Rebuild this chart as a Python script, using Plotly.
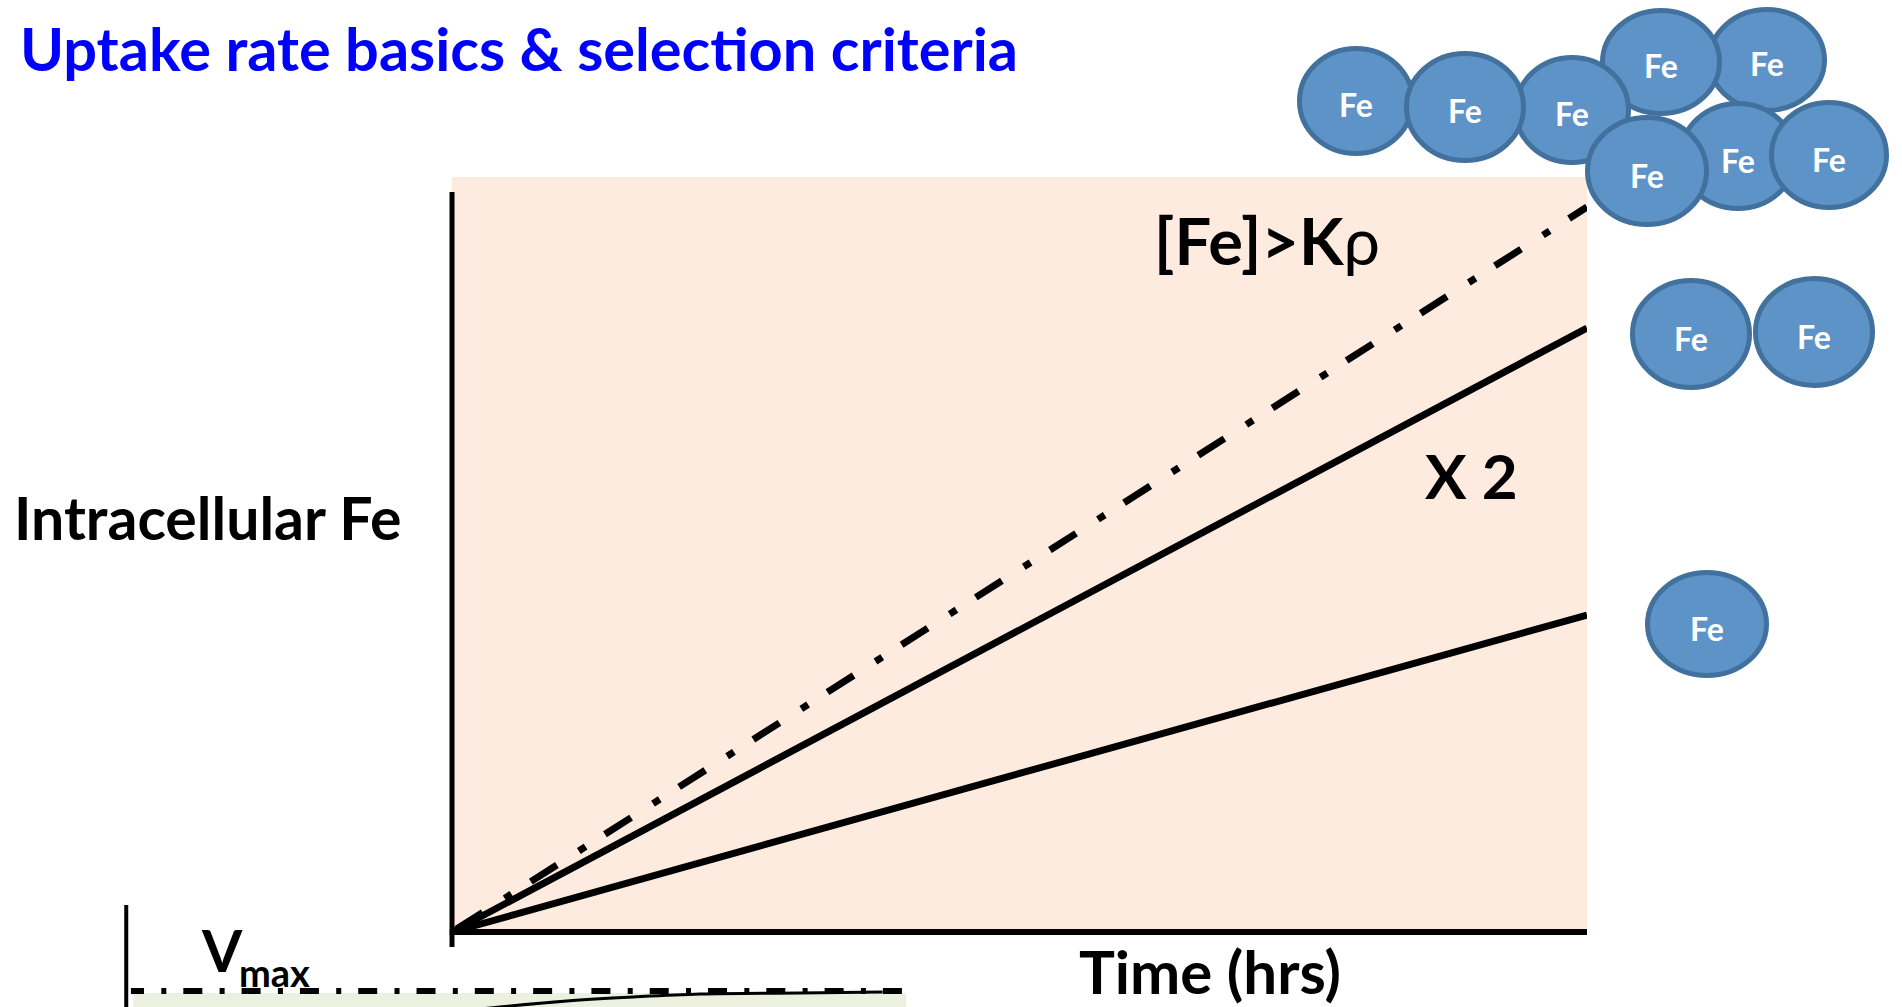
import plotly.graph_objects as go

# ---- Uptake curves (intracellular Fe vs time) ----
time_hrs = [0, 10]
fe_single = [0, 3.17]          # one Fe unit
fe_double = [0, 6.04]          # two Fe units (x 2)
kp_time = [-0.13, 10]
fe_above_kp = [-0.094, 7.25]   # [Fe] > K_rho

# ---- Saturation panel (V vs substrate) ----
vmax_s = [0.06, 9.98]
vmax_v = [1.0, 1.0]
curve_s = [4.2, 4.79, 5.65, 6.50, 7.36, 8.64, 9.70]
curve_v = [0.895, 0.92, 0.95, 0.97, 0.985, 0.99, 0.995]

# ---- Labels ----
title_text = "Uptake rate basics & selection criteria"
y_label = "Intracellular Fe"
x_label = "Time (hrs)"
kp_label = "<b>[Fe]>K</b>ρ"
x2_label = "X 2"
fe_text = "Fe"

W, H = 1902, 1007
FONT = "Lato, 'Open Sans', sans-serif"


def px(x):
    return x / W


def py(y):
    return 1 - y / H


fig = go.Figure()

# main uptake lines
fig.add_trace(go.Scatter(x=time_hrs, y=fe_single, mode="lines",
                         line=dict(color="black", width=7), xaxis="x", yaxis="y"))
fig.add_trace(go.Scatter(x=time_hrs, y=fe_double, mode="lines",
                         line=dict(color="black", width=7), xaxis="x", yaxis="y"))
fig.add_trace(go.Scatter(x=kp_time, y=fe_above_kp, mode="lines",
                         line=dict(color="black", width=7,
                                   dash="0px,23px,31px,26px,8px,0px"),
                         xaxis="x", yaxis="y"))

# saturation panel
fig.add_trace(go.Scatter(x=vmax_s, y=vmax_v, mode="lines",
                         line=dict(color="black", width=6,
                                   dash="13.1px,17.3px,5px,17px,5.9px,0px"),
                         xaxis="x2", yaxis="y2"))
fig.add_trace(go.Scatter(x=curve_s, y=curve_v, mode="lines",
                         line=dict(color="black", width=3, shape="spline"),
                         xaxis="x2", yaxis="y2"))

shapes = [
    # peach plotting background
    dict(type="rect", xref="x", yref="y", x0=0, x1=10, y0=0, y1=7.55,
         fillcolor="#FDEBDF", line=dict(width=0), layer="below"),
    # axis lines
    dict(type="line", xref="x", yref="y", x0=-0.02, x1=10, y0=0, y1=0,
         line=dict(color="black", width=6)),
    dict(type="line", xref="x", yref="y", x0=0, x1=0, y0=-0.15, y1=7.40,
         line=dict(color="black", width=5)),
    # saturation panel background and axis
    dict(type="rect", xref="x2", yref="y2", x0=0.09, x1=10, y0=0.9, y1=0.99,
         fillcolor="#EBF1DE", line=dict(width=0), layer="below"),
    dict(type="line", xref="x2", yref="y2", x0=0, x1=0, y0=0.9, y1=1.43,
         line=dict(color="black", width=4)),
]

# Fe atoms: (centre x, centre y, radius x, radius y) in page pixels, back to front
atoms = [
    (1767, 60, 60, 53),
    (1661, 62, 61, 54),
    (1572, 110, 59, 55),
    (1356, 101, 59, 55),
    (1465, 107, 61, 56),
    (1738, 156, 60, 55),
    (1829, 155, 60, 55),
    (1647, 171, 62, 56),
    (1691, 334, 61, 56),
    (1814, 332, 61, 56),
    (1707, 624, 62, 54),
]
annotations = []
for cx, cy, rx, ry in atoms:
    shapes.append(dict(type="circle", xref="paper", yref="paper",
                       x0=px(cx - rx + 2.5), x1=px(cx + rx - 2.5),
                       y0=py(cy + ry - 2.5), y1=py(cy - ry + 2.5),
                       fillcolor="#5E93C8", line=dict(color="#41719C", width=5),
                       layer="above"))
    annotations.append(dict(text=f"<b>{fe_text}</b>", x=px(cx), y=py(cy + 4),
                            xref="paper", yref="paper", showarrow=False,
                            xanchor="center", yanchor="middle",
                            font=dict(family=FONT, size=32, color="white")))


def label(text, x, y, size, color="black", xanchor="left"):
    annotations.append(dict(text=text, x=px(x), y=py(y), xref="paper", yref="paper",
                            showarrow=False, xanchor=xanchor, yanchor="middle",
                            font=dict(family=FONT, size=size, color=color)))


label(f"<b>{title_text}</b>", 18, 48, 59.5, color="#0000FF")
label(f"<b>{y_label}</b>", 12, 517, 59)
label(f"<b>{x_label}</b>", 1210, 971, 60, xanchor="center")
label(kp_label, 1152, 240, 65)
label(f"<b>{x2_label}</b>", 1423, 475, 62)
label("<b>V</b>", 199, 949, 58)
label("<b>max</b>", 237, 972, 38)

axis_off = dict(showgrid=False, zeroline=False, showticklabels=False,
                showline=False, ticks="", fixedrange=True)

fig.update_layout(
    width=W, height=H,
    margin=dict(l=0, r=0, t=0, b=0),
    paper_bgcolor="white", plot_bgcolor="rgba(0,0,0,0)",
    showlegend=False, hovermode=False,
    xaxis=dict(domain=[px(430), px(1587)], range=[-0.194, 10], **axis_off),
    yaxis=dict(domain=[py(950), py(177)], range=[-0.18, 7.55], **axis_off),
    xaxis2=dict(domain=[px(120), px(906)], range=[-0.08, 10], anchor="y2", **axis_off),
    yaxis2=dict(domain=[0, py(904)], range=[0.92, 1.435], anchor="x2", **axis_off),
    shapes=shapes,
    annotations=annotations,
)

fig.write_html("out.html", config={"displayModeBar": False})
